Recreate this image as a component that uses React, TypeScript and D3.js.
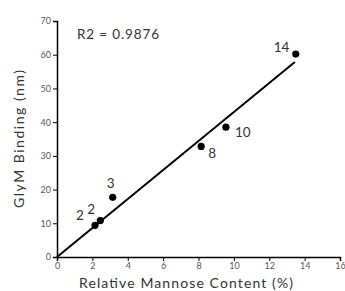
import * as d3 from "d3";
import React, { useRef, useEffect } from "react";

// relative mannose content (%) and GlyM binding (nm)
const mannose = [2.15, 2.45, 3.15, 8.15, 9.55, 13.5];
const binding = [9.4, 10.8, 17.7, 32.8, 38.5, 60.2];
const pointNames = ["2", "2", "3", "8", "10", "14"];
const fitX = [0, 13.45];
const xTicks = [0, 2, 4, 6, 8, 10, 12, 14, 16];
const yTicks = [0, 10, 20, 30, 40, 50, 60, 70];
const r2Text = "R2 = 0.9876";

// label offsets from each point (px)
const labelOffsets = [
    [-19, -5],
    [-13, -7],
    [-6, -9],
    [7, 12],
    [9, 10],
    [-22, -2],
];

const FONT = "Lato, 'Open Sans', sans-serif";

function App() {
    const ref = useRef(null);
    const width = 345;
    const height = 291;
    const margin = { top: 21, right: 5, bottom: 34, left: 57 };

    useEffect(() => {
        const svg = d3.select(ref.current);
        svg.selectAll("*").remove();

        const x = d3.scaleLinear().domain([0, 16]).range([margin.left, width - margin.right]);
        const y = d3.scaleLinear().domain([0, 70]).range([height - margin.bottom, margin.top]);

        // regression through origin
        const sxy = d3.sum(mannose, (d, i) => d * binding[i]);
        const sxx = d3.sum(mannose, (d) => d * d);
        const slope = sxy / sxx;

        const xAxis = svg
            .append("g")
            .attr("transform", `translate(0, ${y(0)})`)
            .call(d3.axisBottom(x).tickValues(xTicks).tickSize(4).tickPadding(2));
        const yAxis = svg
            .append("g")
            .attr("transform", `translate(${x(0)}, 0)`)
            .call(d3.axisLeft(y).tickValues(yTicks).tickSize(4).tickPadding(2));

        [xAxis, yAxis].forEach((g) => {
            g.select(".domain").attr("stroke", "#000").attr("stroke-width", 1.5);
            g.selectAll(".tick line").attr("stroke", "#000").attr("stroke-width", 1);
            g.selectAll(".tick text")
                .attr("fill", "#555")
                .style("font-family", FONT)
                .style("font-size", "9px");
        });

        const line = d3
            .line()
            .x((d) => x(d))
            .y((d) => y(d * slope));
        svg.append("path")
            .datum(fitX)
            .attr("d", line)
            .attr("fill", "none")
            .attr("stroke", "#000")
            .attr("stroke-width", 2);

        svg.selectAll("circle.pt")
            .data(mannose)
            .enter()
            .append("circle")
            .attr("class", "pt")
            .attr("cx", (d) => x(d))
            .attr("cy", (d, i) => y(binding[i]))
            .attr("r", 3.6)
            .attr("fill", "#000");

        svg.selectAll("text.lbl")
            .data(pointNames)
            .enter()
            .append("text")
            .attr("class", "lbl")
            .attr("x", (d, i) => x(mannose[i]) + labelOffsets[i][0])
            .attr("y", (d, i) => y(binding[i]) + labelOffsets[i][1])
            .attr("fill", "#333")
            .style("font-family", FONT)
            .style("font-size", "13.5px")
            .text((d) => d);

        svg.append("text")
            .attr("x", 77)
            .attr("y", 39)
            .attr("fill", "#333")
            .style("font-family", FONT)
            .style("font-size", "13.5px")
            .attr("textLength", 82)
            .text(r2Text);

        svg.append("text")
            .attr("x", 186)
            .attr("y", 288)
            .attr("text-anchor", "middle")
            .attr("fill", "#333")
            .style("font-family", FONT)
            .style("font-size", "14px")
            .attr("textLength", 214)
            .text("Relative Mannose Content (%)");

        svg.append("text")
            .attr("transform", `translate(24, ${(y(0) + y(70)) / 2}) rotate(-90)`)
            .attr("text-anchor", "middle")
            .attr("fill", "#333")
            .style("font-family", FONT)
            .style("font-size", "14px")
            .attr("textLength", 138)
            .text("GlyM Binding (nm)");
    }, []);

    return (
        <svg
            ref={ref}
            width={width}
            height={height}
            style={{ position: "absolute", left: 0, top: 0, background: "#fff" }}
        ></svg>
    );
}

export default App;
